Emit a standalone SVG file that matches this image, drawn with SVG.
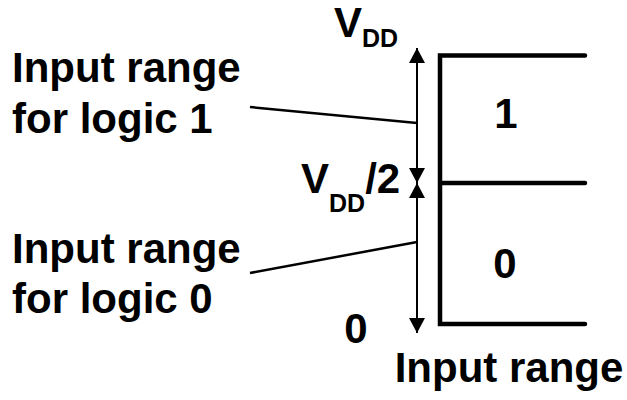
<svg xmlns="http://www.w3.org/2000/svg" width="627" height="400" viewBox="0 0 627 400">
<defs>
<marker id="ah" viewBox="0 0 15 16" refX="15" refY="8" markerWidth="15" markerHeight="16" markerUnits="userSpaceOnUse" orient="auto-start-reverse">
<path d="M0,0 L15,8 L0,16 Z" fill="#000"/>
</marker>
</defs>
<style>
text{font-family:"Liberation Sans",Arial,Helvetica,sans-serif;font-weight:bold;fill:#000}
.t{font-size:42px}
.s{font-size:25px}
.box{stroke:#000;stroke-width:4.5;fill:none;stroke-linecap:round;stroke-linejoin:miter}
.arr{stroke:#000;stroke-width:2;fill:none}
.lead{stroke:#000;stroke-width:2.5;fill:none}
</style>
<rect width="627" height="400" fill="#fff"/>
<g id="levels">
<path class="box" d="M585,55.5 L440,55.5 L440,324 L585,324 M440,183 L585,183"/>
</g>
<g id="connectors">
<line class="arr" x1="417" y1="48" x2="417" y2="183" marker-start="url(#ah)" marker-end="url(#ah)"/>
<line class="arr" x1="417" y1="183" x2="417" y2="333" marker-start="url(#ah)" marker-end="url(#ah)"/>
<line class="lead" x1="250" y1="107" x2="417" y2="123"/>
<line class="lead" x1="250" y1="273" x2="417" y2="242"/>
</g>
<g id="vdd">
<text class="t" x="334" y="37">V<tspan class="s" dy="10">DD</tspan></text>
</g>
<g id="vdd2">
<text class="t" x="301" y="193">V<tspan class="s" dy="19">DD</tspan><tspan dy="-19">/2</tspan></text>
</g>
<g id="zero-level">
<text class="t" x="356" y="343" text-anchor="middle">0</text>
</g>
<g id="label-logic1">
<text class="t" x="12" y="82">Input range</text>
<text class="t" x="12" y="133">for logic 1</text>
</g>
<g id="label-logic0">
<text class="t" x="12" y="263">Input range</text>
<text class="t" x="12" y="313">for logic 0</text>
</g>
<g id="region1">
<text class="t" x="506" y="128" text-anchor="middle">1</text>
</g>
<g id="region0">
<text class="t" x="505" y="278" text-anchor="middle">0</text>
</g>
<g id="axis-label">
<text class="t" x="509" y="382" text-anchor="middle">Input range</text>
</g>
</svg>
